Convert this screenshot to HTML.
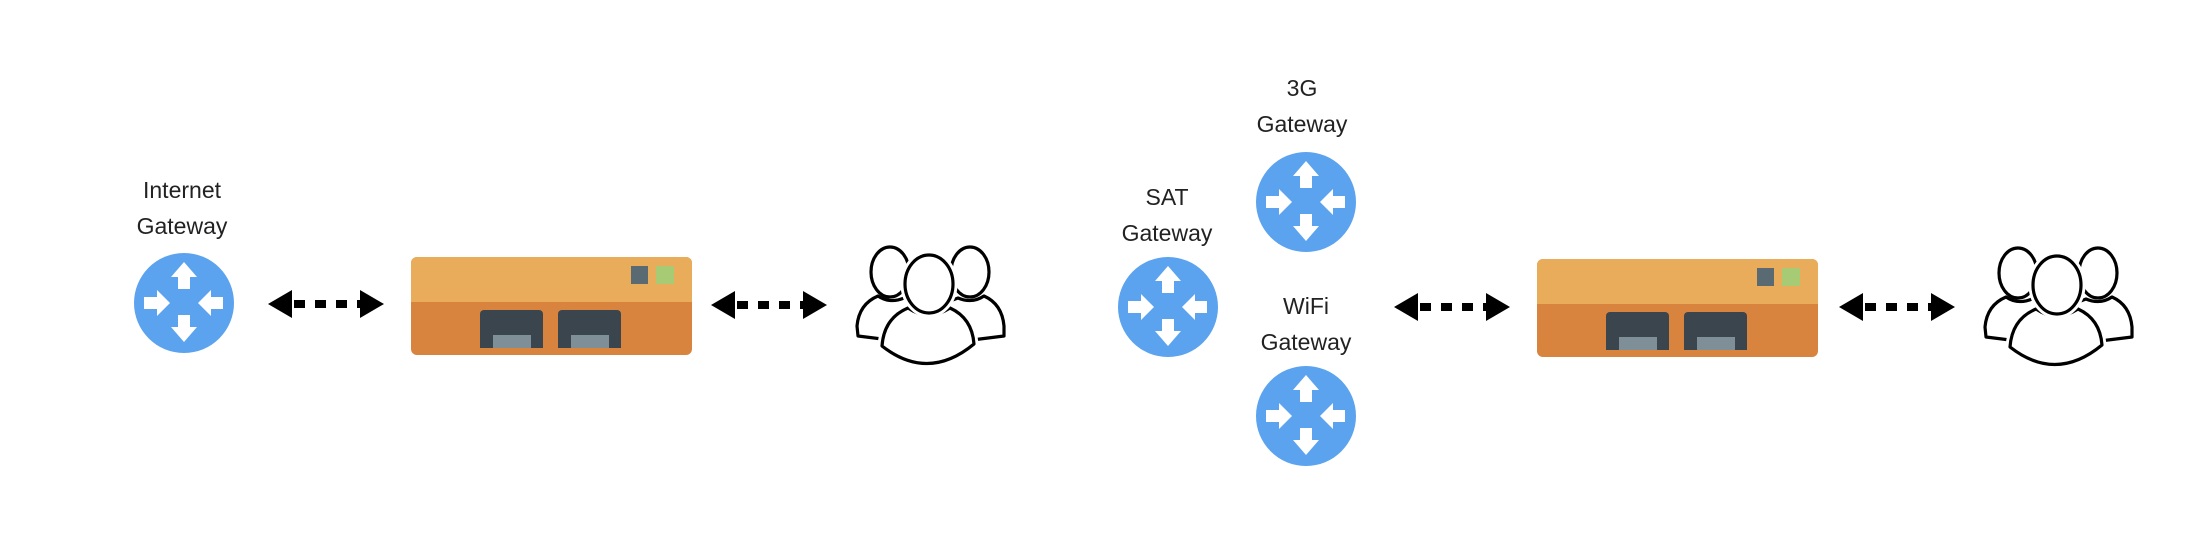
<!DOCTYPE html>
<html><head><meta charset="utf-8"><style>
html,body{margin:0;padding:0;background:#fff;}
svg{display:block;}
text{font-family:"Liberation Sans",sans-serif;font-size:23px;fill:#222;text-anchor:middle;}
</style></head><body>
<svg width="2190" height="534" viewBox="0 0 2190 534" xmlns="http://www.w3.org/2000/svg">
<defs>
<g id="router">
<circle cx="0" cy="0" r="50" fill="#5BA3EE"/>
<g fill="#fff">
<path d="M0,-41 L-13,-26 L-6,-26 L-6,-14 L6,-14 L6,-26 L13,-26 Z"/>
<path d="M0,39 L-13,24 L-6,24 L-6,12 L6,12 L6,24 L13,24 Z"/>
<path d="M-14,0 L-27,-13 L-27,-6 L-40,-6 L-40,6 L-27,6 L-27,13 Z"/>
<path d="M14,0 L27,-13 L27,-6 L39,-6 L39,6 L27,6 L27,13 Z"/>
</g>
</g>
<g id="box">
<rect x="0" y="0" width="281" height="98" rx="6" fill="#D8843F"/>
<path d="M6,0 H275 A6,6 0 0 1 281,6 V45 H0 V6 A6,6 0 0 1 6,0 Z" fill="#E8AC5A"/>
<rect x="220" y="9" width="17" height="18" fill="#5A6A72"/>
<rect x="245" y="9" width="18" height="18" fill="#A6CB74"/>
<path d="M69,91 V57 A4,4 0 0 1 73,53 H128 A4,4 0 0 1 132,57 V91 Z" fill="#3A454D"/>
<path d="M147,91 V57 A4,4 0 0 1 151,53 H206 A4,4 0 0 1 210,57 V91 Z" fill="#3A454D"/>
<rect x="82" y="78" width="38" height="13" fill="#7E8F98"/>
<rect x="160" y="78" width="38" height="13" fill="#7E8F98"/>
</g>
<g id="arrow">
<path d="M0,0 L24,-14 L24,14 Z" fill="#000"/>
<path d="M116,0 L92,-14 L92,14 Z" fill="#000"/>
<line x1="22" y1="0" x2="94" y2="0" stroke="#000" stroke-width="8" stroke-dasharray="11 10" stroke-dashoffset="-4"/>
</g>
<g id="people" fill="#fff" stroke="#000" stroke-width="3.2" stroke-linejoin="round">
<path d="M12,94 L11,84 Q13,62 32,54 Q44,62 58,56 Q70,60 76,66 L60,100 Z"/>
<ellipse cx="44" cy="30" rx="19" ry="25"/>
<path d="M158,94 L158,84 Q156,62 138,54 Q126,62 112,56 Q100,60 94,66 L110,100 Z"/>
<ellipse cx="124" cy="30" rx="19" ry="25"/>
<path d="M36,104 Q38,76 62,66 Q82,80 104,66 Q126,76 128,102 Q82,140 36,104 Z" stroke="#fff" stroke-width="9"/>
<path d="M36,104 Q38,76 62,66 Q82,80 104,66 Q126,76 128,102 Q82,140 36,104 Z"/>
<ellipse cx="83" cy="42" rx="24" ry="29" stroke="#fff" stroke-width="9"/>
<ellipse cx="83" cy="42" rx="24" ry="29"/>
</g>
</defs>

<text x="182" y="198">Internet</text>
<text x="182" y="234">Gateway</text>
<use href="#router" x="184" y="303"/>
<use href="#arrow" x="268" y="304"/>
<use href="#box" x="411" y="257"/>
<use href="#arrow" x="711" y="305"/>
<use href="#people" x="846" y="242"/>

<text x="1302" y="96">3G</text>
<text x="1302" y="132">Gateway</text>
<use href="#router" x="1306" y="202"/>
<text x="1167" y="205">SAT</text>
<text x="1167" y="241">Gateway</text>
<use href="#router" x="1168" y="307"/>
<text x="1306" y="314">WiFi</text>
<text x="1306" y="350">Gateway</text>
<use href="#router" x="1306" y="416"/>
<use href="#arrow" x="1394" y="307"/>
<use href="#box" x="1537" y="259"/>
<use href="#arrow" x="1839" y="307"/>
<use href="#people" x="1974" y="243"/>
</svg>
</body></html>
